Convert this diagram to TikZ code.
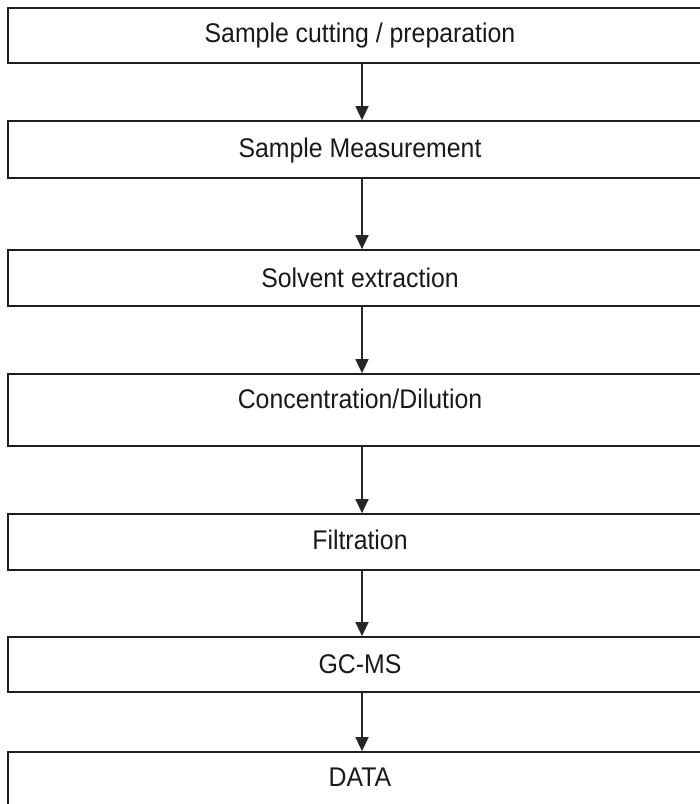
\documentclass[tikz,border=0pt]{standalone}
\usepackage{fontspec}
\setmainfont{Liberation Sans}[FakeStretch=0.92]
\usetikzlibrary{arrows.meta}
\begin{document}
\begin{tikzpicture}[x=1pt,y=-1pt,
  stepbox/.style={draw=black!88, line width=1.7pt, minimum width=708pt, inner sep=0pt},
  steptext/.style={anchor=base, inner sep=0pt, font=\fontsize{27}{30}\selectfont, text=black!90},
  flow/.style={draw=black!85, line width=1.5pt, -{Triangle[length=14pt,width=13pt]}}]
\useasboundingbox (0,0) rectangle (700,804);
\clip (0,0) rectangle (700,804);
\node[stepbox, minimum height=55pt] (b1) at (362,35.5) {};
\node[stepbox, minimum height=57pt] (b2) at (362,149.5) {};
\node[stepbox, minimum height=56pt] (b3) at (362,278) {};
\node[stepbox, minimum height=72pt] (b4) at (362,410) {};
\node[stepbox, minimum height=56pt] (b5) at (362,542) {};
\node[stepbox, minimum height=55pt] (b6) at (362,664.5) {};
\node[stepbox, minimum height=80pt] (b7) at (362,792) {};
\node[steptext] (t1) at (360,42) {Sample cutting / preparation};
\node[steptext] (t2) at (360,157) {Sample Measurement};
\node[steptext] (t3) at (360,287) {Solvent extraction};
\node[steptext] (t4) at (360,408) {Concentration/Dilution};
\node[steptext] (t5) at (360,549) {Filtration};
\node[steptext] (t6) at (360,673) {GC-MS};
\node[steptext] (t7) at (360,786) {DATA};
\draw[flow] (b1.south) -- (b2.north);
\draw[flow] (b2.south) -- (b3.north);
\draw[flow] (b3.south) -- (b4.north);
\draw[flow] (b4.south) -- (b5.north);
\draw[flow] (b5.south) -- (b6.north);
\draw[flow] (b6.south) -- (b7.north);
\end{tikzpicture}
\end{document}
